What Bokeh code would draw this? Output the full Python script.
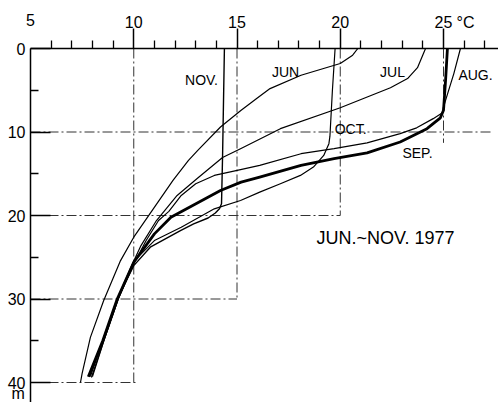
from bokeh.plotting import figure
from bokeh.models import Range1d, FixedTicker, Label
from bokeh.core.properties import value
from bokeh.embed import file_html
from bokeh.resources import INLINE

# ---- data ----
jun_temp = [20.85, 20.6, 20.0, 18.1, 16.6, 16.0, 15.2, 14.2, 13.1, 12.65, 11.9, 10.0, 9.36, 8.54, 7.9, 7.5, 7.42]
jun_depth = [0, 0.8, 1.8, 3.2, 4.8, 5.9, 7.4, 9.4, 12.2, 13.4, 15.8, 22.6, 25.4, 30.2, 34.6, 38.9, 40.0]

jul_temp = [24.13, 23.74, 23.26, 22.43, 20.0, 17.1, 15.17, 14.3, 13.1, 12.1, 11.1, 10.35, 9.9, 9.2, 8.5, 7.9]
jul_depth = [0, 2.3, 3.6, 4.7, 7.1, 9.6, 12.0, 13.05, 15.5, 17.6, 20.6, 23.6, 26.0, 30.0, 35.0, 39.3]

aug_temp = [25.82, 25.5, 25.2, 25.0, 24.95, 24.5, 23.7, 22.9, 21.3, 19.7, 18.1, 16.1, 14.9, 13.9, 13.0, 12.3, 11.7, 11.2, 10.6, 10.0, 9.25, 8.55, 7.95]
aug_depth = [0, 3.0, 5.4, 7.0, 7.7, 8.4, 9.5, 10.2, 11.3, 12.0, 12.6, 14.0, 14.65, 15.2, 16.2, 17.6, 19.5, 20.6, 23.0, 25.8, 30.0, 35.0, 39.4]

sep_temp = [25.19, 25.1, 25.0, 24.85, 24.5, 24.2, 22.9, 21.3, 19.7, 18.1, 16.1, 15.2, 14.2, 11.8, 11.0, 10.0, 9.2, 8.5, 7.8]
sep_depth = [0, 3.8, 7.4, 8.3, 9.0, 9.6, 11.2, 12.5, 13.2, 14.0, 15.4, 16.0, 17.0, 20.2, 22.2, 25.6, 30.0, 35.0, 39.3]

oct_temp = [19.75, 19.62, 19.5, 19.45, 19.2, 18.7, 18.07, 17.1, 16.1, 15.17, 13.9, 12.3, 11.0, 10.0, 9.25, 8.55, 8.0]
oct_depth = [0, 5.0, 10.5, 11.4, 12.8, 14.2, 15.2, 16.2, 17.2, 18.2, 19.2, 21.4, 23.0, 25.5, 30.0, 35.0, 39.3]

nov_temp = [14.39, 14.3, 14.25, 14.15, 13.95, 13.6, 12.9, 12.26, 10.8, 10.0, 9.2, 8.5, 7.85]
nov_depth = [0, 13.0, 18.6, 19.2, 19.7, 20.3, 21.0, 21.8, 23.8, 26.0, 30.0, 35.0, 39.3]

month_labels = ["JUN", "JUL", "AUG.", "SEP.", "OCT.", "NOV."]
label_temps = [17.35, 22.53, 26.55, 23.74, 20.5, 13.28]
label_depths = [2.87, 2.87, 3.23, 12.46, 9.6, 3.83]

title_text = "JUN.~NOV. 1977"

x_ticks = [10, 15, 20, 25]
x_minor = [6, 7, 8, 9, 11, 12, 13, 14, 16, 17, 18, 19, 21, 22, 23, 24, 26, 27]
y_ticks = [0, 10, 20, 30, 40]
y_minor = [5, 15, 25, 35]

# stepped grid: vertical lines at temps, reaching down to depths; horizontal lines at depths, reaching to temps
vgrid_temp = [10, 15, 20, 25]
vgrid_depth = [40, 30, 20, 11.3]
hgrid_depth = [10, 20, 30, 40]
hgrid_temp = [27.3, 20, 15, 10.1]

FONT = "Liberation Sans"

X_MIN, X_MAX = 3.547, 27.663
D_TOP, D_BOT = -5.749, 42.395

p = figure(width=498, height=402, output_backend="svg", toolbar_location=None,
           x_range=Range1d(X_MIN, X_MAX), y_range=Range1d(D_BOT, D_TOP),
           x_axis_location="above", min_border=0)
p.outline_line_color = None
p.xgrid.grid_line_color = None
p.ygrid.grid_line_color = None
p.background_fill_color = "white"
p.border_fill_color = "white"

xa = p.xaxis[0]
xa.fixed_location = 0
xa.bounds = (5, X_MAX)
xa.ticker = FixedTicker(ticks=x_ticks, minor_ticks=x_minor)
xa.major_tick_in = 0
xa.major_tick_out = 20
xa.minor_tick_in = 0
xa.minor_tick_out = 8
xa.axis_line_width = 1.5
xa.major_tick_line_width = 1.5
xa.minor_tick_line_width = 1.3
xa.axis_line_color = "black"
xa.major_tick_line_color = "black"
xa.minor_tick_line_color = "black"
xa.major_label_standoff = 1
xa.major_label_text_font = FONT
xa.major_label_text_font_size = "16px"
xa.major_label_text_color = "black"

ya = p.yaxis[0]
ya.fixed_location = 5
ya.bounds = (0, D_BOT)
ya.ticker = FixedTicker(ticks=y_ticks, minor_ticks=y_minor)
ya.major_tick_in = 20
ya.major_tick_out = 0
ya.minor_tick_in = 8
ya.minor_tick_out = 0
ya.axis_line_width = 1.5
ya.major_tick_line_width = 1.3
ya.minor_tick_line_width = 1.3
ya.axis_line_color = "black"
ya.major_tick_line_color = "black"
ya.minor_tick_line_color = "black"
ya.major_label_standoff = 5
ya.major_label_text_font = FONT
ya.major_label_text_font_size = "16px"
ya.major_label_text_color = "black"

# stepped dash-dot grid
p.segment(x0=vgrid_temp, y0=[0] * len(vgrid_temp), x1=vgrid_temp, y1=vgrid_depth,
          line_color="#333333", line_width=1, line_dash="10 3 2 3")
p.segment(x0=[5] * len(hgrid_depth), y0=hgrid_depth, x1=hgrid_temp, y1=hgrid_depth,
          line_color="#333333", line_width=1, line_dash="10 3 2 3")

# profiles
for t, d, w in [(jun_temp, jun_depth, 1.2), (jul_temp, jul_depth, 1.2), (aug_temp, aug_depth, 1.2),
                (oct_temp, oct_depth, 1.2), (nov_temp, nov_depth, 1.4), (sep_temp, sep_depth, 2.8)]:
    p.line(t, d, line_color="black", line_width=w, line_join="round")

p.text(x=label_temps, y=label_depths, text=month_labels, text_font=value(FONT),
       text_font_size="14px", text_align="center", text_baseline="middle", text_color="black")
p.text(x=[22.19], y=[22.75], text=[title_text], text_font=value(FONT),
       text_font_size="18px", text_align="center", text_baseline="middle", text_color="black")

# extra axis texts
p.add_layout(Label(x=5, y=-3.47, text="5", text_font=FONT, text_font_size="16px",
                   text_align="center", text_baseline="middle", text_color="black"))
p.add_layout(Label(x=25.63, y=-3.1, text="°C", text_font=FONT, text_font_size="16px",
                   text_align="left", text_baseline="middle", text_color="black"))
p.add_layout(Label(x=4.4, y=41.3, text="m", text_font=FONT, text_font_size="16px",
                   text_align="center", text_baseline="middle", text_color="black"))

open("out.html", "w").write(file_html(p, INLINE))
